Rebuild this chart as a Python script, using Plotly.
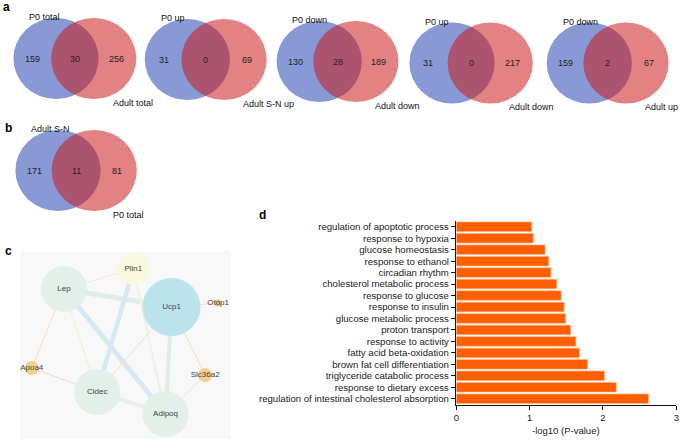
import plotly.graph_objects as go

# ---------------- data ----------------
venn_left_labels = ["P0 total", "P0 up", "P0 down", "P0 up", "P0 down", "Adult S-N"]
venn_right_labels = ["Adult total", "Adult S-N up", "Adult down", "Adult down", "Adult up", "P0 total"]
venn_left_only = [159, 31, 130, 31, 159, 171]
venn_both = [30, 0, 28, 0, 2, 11]
venn_right_only = [256, 69, 189, 217, 67, 81]

go_terms = [
    "regulation of apoptotic process",
    "response to hypoxia",
    "glucose homeostasis",
    "response to ethanol",
    "circadian rhythm",
    "cholesterol metabolic process",
    "response to glucose",
    "response to insulin",
    "glucose metabolic process",
    "proton transport",
    "response to activity",
    "fatty acid beta-oxidation",
    "brown fat cell differentiation",
    "triglyceride catabolic process",
    "response to dietary excess",
    "regulation of intestinal cholesterol absorption",
]
go_logp = [1.03, 1.05, 1.21, 1.26, 1.29, 1.37, 1.43, 1.47, 1.49, 1.56, 1.63, 1.68, 1.79, 2.02, 2.18, 2.62]
x_ticks = [0, 1, 2, 3]

net_nodes = ["Plin1", "Lep", "Ucp1", "Otop1", "Apoa4", "Slc36a2", "Cidec", "Adipoq"]
net_edges = [("Lep", "Plin1"), ("Lep", "Ucp1"), ("Lep", "Adipoq"), ("Lep", "Apoa4"), ("Lep", "Cidec"),
             ("Plin1", "Cidec"), ("Plin1", "Adipoq"), ("Ucp1", "Adipoq"), ("Ucp1", "Cidec"),
             ("Ucp1", "Otop1"), ("Ucp1", "Slc36a2"), ("Apoa4", "Cidec"), ("Cidec", "Adipoq"),
             ("Slc36a2", "Adipoq")]

# ---------------- layout helpers (pixel canvas) ----------------
W, H = 685, 440
venn_centers = [(53.5, 91.5, 58.5), (186, 223, 59.5), (319, 356, 61.5),
                (453, 491.5, 63), (591.5, 628.5, 63), (55.5, 92, 170.5)]
RX, RY = 43, 40.5
BLUE = "rgb(136,153,213)"
RED = "rgb(202,28,28)"

node_pos = {"Plin1": (131.5, 269), "Lep": (61.5, 289), "Ucp1": (170, 307), "Otop1": (217, 303),
            "Apoa4": (29, 368), "Slc36a2": (204, 375), "Cidec": (95, 392), "Adipoq": (164, 414)}
node_r = {"Plin1": 16, "Lep": 23, "Ucp1": 29, "Otop1": 3.5, "Apoa4": 7, "Slc36a2": 7, "Cidec": 23, "Adipoq": 23}
node_col = {"Plin1": "#F8FADF", "Lep": "#E3EFE9", "Ucp1": "#BDE3EF", "Otop1": "#F5BD74",
            "Apoa4": "#F8D08C", "Slc36a2": "#F8D08C", "Cidec": "#E3EFE9", "Adipoq": "#E3EFE9"}
edge_style = [(1.2, "#F8EACB"), (5, "#DDEDEA"), (5, "#D6E8F4"), (1, "#F6DCC0"), (1, "#F8EACB"),
              (4.5, "#D6E8F4"), (2, "#EDF1E4"), (4, "#DCEDE9"), (1, "#F6DCC0"),
              (1, "#F6DCC0"), (1, "#F6DCC0"), (1, "#F6DCC0"), (4, "#E6EFEC"),
              (1, "#F8E2C8")]

FONT = "Liberation Sans, Arial, sans-serif"

fig = go.Figure()

# ---------------- bar chart (panel d) ----------------
fig.add_trace(go.Bar(
    x=go_logp, y=go_terms, orientation="h",
    marker=dict(color="#FF5F00", line=dict(color="#FFB27F", width=0.6)),
    xaxis="x", yaxis="y", showlegend=False, hoverinfo="skip"))

shapes = []
annotations = []

# network background
shapes.append(dict(type="rect", xref="x2", yref="y2", x0=17, x1=230, y0=251, y1=439,
                   fillcolor="#F8F8F8", line=dict(width=0), layer="below"))

# venn diagrams
for i, (bx, rx_, cy) in enumerate(venn_centers):
    shapes.append(dict(type="circle", xref="x2", yref="y2", x0=bx - RX, x1=bx + RX,
                       y0=cy - RY, y1=cy + RY, fillcolor=BLUE, line=dict(width=0), layer="below"))
    shapes.append(dict(type="circle", xref="x2", yref="y2", x0=rx_ - RX, x1=rx_ + RX,
                       y0=cy - RY, y1=cy + RY, fillcolor=RED, opacity=0.55,
                       line=dict(width=0), layer="below"))
    for xx, val in [(bx - 24, venn_left_only[i]), ((bx + rx_) / 2, venn_both[i]),
                    (rx_ + 23, venn_right_only[i])]:
        annotations.append(dict(x=xx, y=cy, xref="x2", yref="y2", text=str(val), showarrow=False,
                                font=dict(size=9, color="#222", family=FONT),
                                xanchor="center", yanchor="middle"))
    annotations.append(dict(x=bx - 29, y=cy - RY - 1, xref="x2", yref="y2", text=venn_left_labels[i],
                            showarrow=False, font=dict(size=9, color="#111", family=FONT),
                            xanchor="left", yanchor="middle"))
    annotations.append(dict(x=rx_ + 17, y=cy + RY + 3.5, xref="x2", yref="y2", text=venn_right_labels[i],
                            showarrow=False, font=dict(size=9, color="#111", family=FONT),
                            xanchor="left", yanchor="middle"))

# network edges
for (a, b), (w, c) in zip(net_edges, edge_style):
    fig.add_trace(go.Scatter(x=[node_pos[a][0], node_pos[b][0]], y=[node_pos[a][1], node_pos[b][1]],
                             mode="lines", line=dict(color=c, width=w), xaxis="x2", yaxis="y2",
                             showlegend=False, hoverinfo="skip"))
# network nodes
fig.add_trace(go.Scatter(
    x=[node_pos[n][0] for n in net_nodes], y=[node_pos[n][1] for n in net_nodes],
    mode="markers+text", text=net_nodes, textposition="middle center",
    textfont=dict(size=8, color="#444", family=FONT),
    marker=dict(size=[2 * node_r[n] for n in net_nodes], color=[node_col[n] for n in net_nodes],
                line=dict(width=0), opacity=1),
    xaxis="x2", yaxis="y2", showlegend=False, hoverinfo="skip", cliponaxis=False))

# panel letters
for lt, (lx, ly) in zip(["a", "b", "c", "d"], [(4, 7), (6, 128), (6, 251), (262, 215)]):
    annotations.append(dict(x=lx, y=ly, xref="x2", yref="y2", text="<b>%s</b>" % lt, showarrow=False,
                            font=dict(size=12, color="#000", family=FONT),
                            xanchor="center", yanchor="middle"))

# axis title for d
annotations.append(dict(x=568, y=430, xref="x2", yref="y2", text="-log10 (P-value)", showarrow=False,
                        font=dict(size=9.5, color="#222", family=FONT),
                        xanchor="center", yanchor="middle"))

x_left, x_right = 457.3, 679.3
y_top, y_bot = 221, 404.5

fig.update_layout(
    width=W, height=H, margin=dict(l=0, r=0, t=0, b=0),
    paper_bgcolor="white", plot_bgcolor="rgba(0,0,0,0)",
    bargap=0.17,
    shapes=shapes, annotations=annotations,
    xaxis=dict(domain=[x_left / W, x_right / W], range=[0, 3], tickvals=x_ticks,
               showgrid=False, zeroline=False, showline=True, linecolor="#111", linewidth=1.5,
               ticks="outside", ticklen=4, tickwidth=1, tickcolor="#111",
               tickfont=dict(size=9.5, color="#222", family=FONT), anchor="y"),
    yaxis=dict(domain=[1 - y_bot / H, 1 - y_top / H], categoryorder="array",
               categoryarray=go_terms, autorange="reversed",
               tickmode="array", tickvals=go_terms, ticktext=go_terms,
               showgrid=False, zeroline=False, showline=True, linecolor="#111", linewidth=1.5,
               ticks="outside", ticklen=4, tickwidth=1, tickcolor="#111",
               tickfont=dict(size=9.6, color="#222", family=FONT), anchor="x"),
    xaxis2=dict(domain=[0, 1], range=[0, W], visible=False, anchor="y2", fixedrange=True),
    yaxis2=dict(domain=[0, 1], range=[H, 0], visible=False, anchor="x2", fixedrange=True),
)

fig.write_html("out.html", config={"displayModeBar": False, "staticPlot": True},
               post_script="document.body.style.margin='0';document.body.style.overflow='hidden';")
